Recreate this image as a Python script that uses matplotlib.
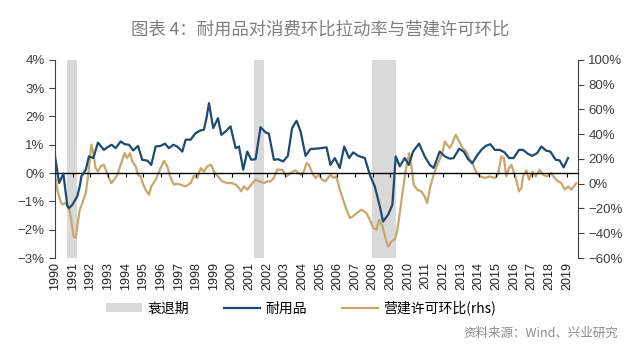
import matplotlib
matplotlib.use("Agg")
import matplotlib.pyplot as plt
from matplotlib.patches import Patch
from matplotlib.lines import Line2D
from matplotlib.ticker import FuncFormatter, MultipleLocator

plt.rcParams['font.family'] = ['Liberation Sans', 'Noto Sans CJK SC']

# 耐用品 (left axis, %)
durable_years = [1990.00, 1990.23, 1990.47, 1990.70, 1990.79, 1990.98, 1991.26, 1991.40, 1991.49,
                 1991.74, 1991.92, 1992.17, 1992.43, 1992.77, 1992.96, 1993.21, 1993.43, 1993.72,
                 1993.94, 1994.19, 1994.43, 1994.70, 1994.94, 1995.23, 1995.45, 1995.70, 1995.98,
                 1996.23, 1996.45, 1996.70, 1996.92, 1997.21, 1997.40, 1997.68, 1997.96, 1998.25,
                 1998.43, 1998.58, 1998.72, 1998.96, 1999.23, 1999.42, 1999.66, 1999.94, 2000.23,
                 2000.42, 2000.66, 2000.89, 2001.11, 2001.36, 2001.64, 2001.92, 2002.11, 2002.40,
                 2002.64, 2002.92, 2003.19, 2003.43, 2003.68, 2003.91, 2004.19, 2004.47, 2004.75,
                 2005.04, 2005.38, 2005.60, 2005.85, 2006.13, 2006.38, 2006.66, 2006.89, 2007.17,
                 2007.55, 2007.83, 2008.11, 2008.40, 2008.58, 2008.87, 2009.11, 2009.30, 2009.53,
                 2009.81, 2010.04, 2010.28, 2010.62, 2010.94, 2011.23, 2011.45, 2011.79, 2012.08,
                 2012.36, 2012.58, 2012.89, 2013.15, 2013.40, 2013.64, 2013.87, 2014.15, 2014.40,
                 2014.66, 2014.91, 2015.19, 2015.47, 2015.72, 2015.98, 2016.28, 2016.51, 2016.79,
                 2017.04, 2017.32, 2017.55, 2017.83, 2018.06, 2018.36, 2018.58, 2018.81, 2019.06]
durable_vals = [0.59, -0.35, -0.02, -1.18, -1.24, -1.12, -0.82, -0.47, -0.12,
                0.12, 0.59, 0.53, 1.08, 0.82, 0.91, 1.00, 0.88, 1.12,
                1.02, 1.00, 0.80, 0.96, 0.47, 0.44, 0.29, 0.94, 0.96,
                1.04, 0.88, 1.00, 0.94, 0.76, 1.18, 1.18, 1.41, 1.51,
                1.53, 1.94, 2.47, 1.59, 1.94, 1.35, 1.47, 1.65, 0.88,
                0.94, 0.12, 0.76, 0.47, 0.49, 1.62, 1.44, 1.39, 0.47,
                0.49, 0.41, 0.61, 1.59, 1.85, 1.47, 0.61, 0.85, 0.86,
                0.88, 0.91, 0.29, 0.53, 0.18, 0.94, 0.53, 0.73, 0.61,
                0.53, -0.06, -0.47, -1.18, -1.71, -1.47, -1.12, 0.59, 0.24,
                0.53, 0.29, 0.76, 1.04, 0.59, 0.29, 0.18, 0.76, 0.59,
                0.51, 0.53, 0.86, 0.76, 0.49, 0.35, 0.59, 0.82, 0.96,
                1.02, 0.82, 0.82, 0.73, 0.53, 0.53, 0.82, 0.82, 0.68,
                0.61, 0.71, 0.94, 0.79, 0.76, 0.47, 0.45, 0.20, 0.53]

# 营建许可环比 (right axis, %)
permit_years = [1990.00, 1990.13, 1990.32, 1990.42, 1990.55, 1990.70, 1990.79, 1990.92, 1991.04,
                1991.17, 1991.26, 1991.40, 1991.55, 1991.74, 1991.87, 1992.06, 1992.17, 1992.30,
                1992.43, 1992.58, 1992.77, 1992.92, 1993.06, 1993.19, 1993.34, 1993.53, 1993.72,
                1993.94, 1994.09, 1994.25, 1994.38, 1994.57, 1994.70, 1994.85, 1995.00, 1995.13,
                1995.32, 1995.45, 1995.70, 1995.94, 1996.17, 1996.36, 1996.55, 1996.74, 1996.92,
                1997.11, 1997.40, 1997.68, 1997.87, 1998.06, 1998.25, 1998.43, 1998.62, 1998.85,
                1999.00, 1999.23, 1999.47, 1999.75, 2000.04, 2000.23, 2000.42, 2000.55, 2000.70,
                2000.89, 2001.11, 2001.36, 2001.60, 2001.83, 2002.02, 2002.21, 2002.40, 2002.58,
                2002.87, 2003.11, 2003.34, 2003.62, 2003.91, 2004.09, 2004.25, 2004.38, 2004.57,
                2004.75, 2004.94, 2005.13, 2005.32, 2005.60, 2005.79, 2005.94, 2006.13, 2006.32,
                2006.51, 2006.70, 2006.89, 2007.08, 2007.36, 2007.64, 2007.83, 2008.02, 2008.21,
                2008.36, 2008.55, 2008.74, 2008.87, 2009.06, 2009.25, 2009.38, 2009.53, 2009.68,
                2009.87, 2010.06, 2010.19, 2010.32, 2010.51, 2010.75, 2010.94, 2011.08, 2011.26,
                2011.45, 2011.70, 2011.94, 2012.08, 2012.21, 2012.36, 2012.51, 2012.70, 2012.89,
                2013.08, 2013.30, 2013.49, 2013.68, 2013.87, 2014.09, 2014.34, 2014.62, 2014.91,
                2015.09, 2015.28, 2015.42, 2015.57, 2015.72, 2015.85, 2016.04, 2016.17, 2016.28,
                2016.42, 2016.51, 2016.70, 2016.85, 2017.04, 2017.23, 2017.45, 2017.64, 2017.87,
                2018.11, 2018.30, 2018.49, 2018.68, 2018.87, 2019.06, 2019.25, 2019.53]
permit_vals = [7.3, -5.1, -14.5, -16.9, -15.6, -17.0, -19.6, -29.0, -42.5,
               -43.8, -34.4, -21.0, -15.6, -7.5, 5.9, 31.5, 24.7, 12.6,
               9.7, 14.0, 15.3, 9.7, 4.3, 0.5, 3.2, 7.3, 15.3,
               24.7, 20.7, 24.7, 18.0, 14.0, 7.3, 5.9, -0.8, -4.8,
               -8.9, -2.2, 3.2, 11.3, 18.5, 14.0, 4.6, -0.8, 0.0,
               -0.8, -2.2, 0.5, 6.5, 4.6, 12.6, 9.7, 14.0, 15.3,
               9.7, 5.9, 1.9, 0.5, 0.5, -0.8, -3.5, -6.2, -2.2,
               -4.8, -0.8, 3.2, 1.9, 0.5, 1.9, 1.9, 4.6, 11.3,
               11.3, 5.9, 8.6, 10.8, 7.3, 9.7, 16.7, 15.3, 8.6,
               4.6, 7.3, 3.2, 1.9, 7.3, 4.6, 5.9, -4.8, -12.9,
               -21.0, -27.7, -26.3, -23.7, -21.0, -23.7, -29.0, -35.8, -37.1,
               -29.0, -34.4, -45.4, -50.8, -46.5, -45.2, -38.4, -23.7, -7.5,
               11.3, 24.7, 14.0, -0.8, -4.8, -6.2, -10.2, -15.6, -2.2,
               7.3, 16.7, 24.7, 34.1, 31.5, 28.8, 32.8, 39.5, 34.1,
               28.8, 26.1, 19.4, 15.3, 8.6, 5.9, 4.6, 5.9, 4.6,
               7.3, 22.0, 20.7, 5.9, 12.6, 15.3, 7.3, 0.5, -6.2,
               -3.5, 5.9, 10.8, 3.2, 9.7, 5.9, 11.3, 7.3, 5.9,
               8.6, 4.6, 1.9, 0.5, -4.8, -2.2, -4.8, 0.5]

# 衰退期
recessions = [(1990.70, 1991.23), (2001.26, 2001.83), (2007.96, 2009.34)]

years = list(range(1990, 2020))

blue = "#1d4a70"
tan = "#c8a66e"
grey = "#d9d9d9"
axis_col = "#404040"


def pct(v, pos):
    s = f"{v:.0f}%"
    return s.replace("-", "\u2212")


fig = plt.figure(figsize=(6.4, 3.52), dpi=100)
ax = fig.add_axes([0.086, 0.267, 0.817, 0.563])
ax2 = ax.twinx()

# Recession shading goes on the lower (rhs) axes so both lines stay on top
for start, end in recessions:
    ax2.axvspan(start, end, color=grey, lw=0, zorder=0)

ax2.plot(permit_years, permit_vals, color=tan, lw=1.6, zorder=2)
ax.plot(durable_years, durable_vals, color=blue, lw=1.6, zorder=3)

ax.set_xlim(1990, 2019.62)
ax.set_ylim(-3, 4)
ax2.set_ylim(-60, 100)
ax.yaxis.set_major_locator(MultipleLocator(1))
ax2.yaxis.set_major_locator(MultipleLocator(20))
ax.yaxis.set_major_formatter(FuncFormatter(pct))
ax2.yaxis.set_major_formatter(FuncFormatter(pct))

# Put the line axis above the rhs axes
ax.set_zorder(ax2.get_zorder() + 1)
ax.patch.set_visible(False)

# Bottom spine sits on zero with small ticks, labels at the bottom
ax.spines['bottom'].set_position(('data', 0))
ax.spines['bottom'].set_color('black')
ax.spines['bottom'].set_linewidth(1.0)
ax.set_xticks(years)
ax.tick_params(axis='x', direction='out', length=3, width=0.8, labelbottom=False)

sec = ax.secondary_xaxis(0)
sec.set_xticks(years)
sec.set_xticklabels([str(y) for y in years], rotation=90, fontsize=9, color='#222222')
sec.tick_params(length=0, pad=3)
sec.spines['bottom'].set_visible(False)

for a in (ax, ax2):
    a.spines['top'].set_visible(False)
ax.spines['right'].set_visible(False)
ax2.spines['left'].set_visible(False)
ax2.spines['bottom'].set_visible(False)
ax.spines['left'].set_color(axis_col)
ax2.spines['right'].set_color(axis_col)
ax.tick_params(axis='y', direction='out', length=4, colors=axis_col, labelsize=9.5)
ax2.tick_params(axis='y', direction='out', length=4, colors=axis_col, labelsize=9.5)

fig.text(0.5, 0.915, "图表 4：耐用品对消费环比拉动率与营建许可环比", ha='center', va='center',
         fontsize=12.5, color='#7f7f7f', family=['Noto Sans CJK SC', 'DejaVu Sans'])

handles = [Patch(facecolor=grey, edgecolor='none'),
           Line2D([0], [0], color=blue, lw=1.6),
           Line2D([0], [0], color=tan, lw=1.6)]
labels = ["衰退期", "耐用品", "营建许可环比(rhs)"]
fig.legend(handles, labels, loc='center', bbox_to_anchor=(0.47, 0.125), ncol=3, frameon=False,
           prop={'family': ['Noto Sans CJK SC', 'DejaVu Sans'], 'size': 10},
           handlelength=2.6, columnspacing=2.5, handletextpad=0.4)

fig.text(0.966, 0.053, "资料来源：Wind、兴业研究", ha='right', va='center', fontsize=9,
         color='#8c8c8c', family=['Noto Sans CJK SC', 'DejaVu Sans'])

fig.savefig("out.png", dpi=100)
